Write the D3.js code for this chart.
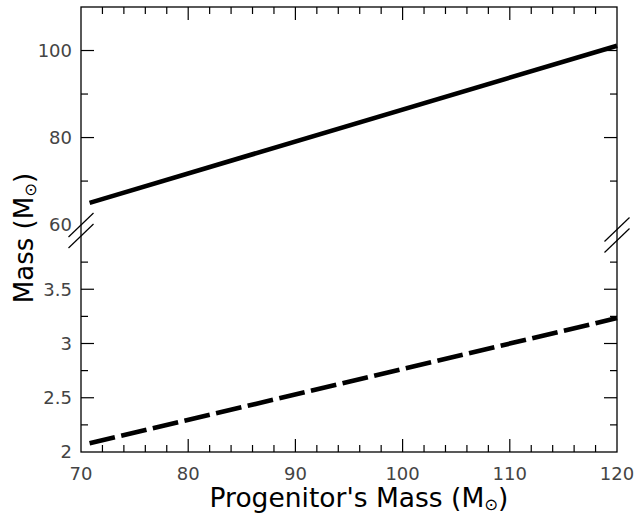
<!DOCTYPE html>
<html><head><meta charset="utf-8">
<script src="https://cdn.jsdelivr.net/npm/d3@7"></script>
<style>
html,body{margin:0;padding:0;background:#fff;}
svg{display:block;}
text{font-family:"DejaVu Sans",sans-serif;}
</style></head>
<body>
<script>
// Data
const progenitorMass = [70.8, 120];
const remnantUpper = [65.0, 101.1];      // solid line (upper panel)
const remnantLower = [2.08, 3.234];      // dashed line (lower panel)
const xTicks = [70, 80, 90, 100, 110, 120];
const yUpperTicks = [60, 80, 100];
const yLowerTicks = [2, 2.5, 3, 3.5];

(function(){
const W = 634, H = 516;
const mLeft = 81, mRight = 617, mTop = 7, mBottom = 452;

const svg = d3.select("body").append("svg").attr("width", W).attr("height", H);

const x = d3.scaleLinear().domain([70, 120]).range([mLeft, mRight]);
const yU = d3.scaleLinear().domain([60, 110]).range([224.6, mTop]);
const yL = d3.scaleLinear().domain([2, 4]).range([mBottom, 235]);

const majorLen = 13, minorLen = 7;
const tickColor = "#000";
const labelColor = "#444";
const tickFont = 18;

const g = svg.append("g");

// Lines
const lineU = d3.line().x((d,i)=>x(progenitorMass[i])).y(d=>yU(d));
const lineL = d3.line().x((d,i)=>x(progenitorMass[i])).y(d=>yL(d));
g.append("path").attr("d", lineU(remnantUpper)).attr("fill","none")
  .attr("stroke","#000").attr("stroke-width",4.6);
g.append("path").attr("d", lineL(remnantLower)).attr("fill","none")
  .attr("stroke","#000").attr("stroke-width",4.6).attr("stroke-dasharray","26,6.5");

// Frame
g.append("rect").attr("x", mLeft).attr("y", mTop).attr("width", mRight-mLeft).attr("height", mBottom-mTop)
  .attr("fill","none").attr("stroke","#000").attr("stroke-width",1.3);

function tick(x1,y1,x2,y2){
  g.append("line").attr("x1",x1).attr("y1",y1).attr("x2",x2).attr("y2",y2)
   .attr("stroke",tickColor).attr("stroke-width",1.2);
}

// X ticks (bottom and top)
d3.range(70, 121, 2).forEach(v=>{
  const major = v % 10 === 0;
  const len = major ? majorLen : minorLen;
  if (v>70 && v<120){
    tick(x(v), mBottom, x(v), mBottom-len);
    tick(x(v), mTop, x(v), mTop+len);
  }
});
xTicks.forEach(v=>{
  g.append("text").attr("x", x(v)).attr("y", 480).attr("text-anchor","middle")
   .attr("font-size",tickFont).attr("fill",labelColor).text(v);
});

// Y upper ticks
[70,80,90,100].forEach(v=>{
  const len = (v % 20 === 0) ? majorLen : minorLen;
  tick(mLeft, yU(v), mLeft+len, yU(v));
  tick(mRight, yU(v), mRight-len, yU(v));
});
yUpperTicks.forEach(v=>{
  g.append("text").attr("x", 72).attr("y", yU(v)).attr("dy","0.36em").attr("text-anchor","end")
   .attr("font-size",tickFont).attr("fill",labelColor).text(v);
});
// Y lower ticks
[2.25,2.5,2.75,3,3.25,3.5,3.75].forEach(v=>{
  const major = Math.abs(v*2 - Math.round(v*2))<1e-6;
  const len = major ? majorLen : minorLen;
  tick(mLeft, yL(v), mLeft+len, yL(v));
  tick(mRight, yL(v), mRight-len, yL(v));
});
yLowerTicks.forEach(v=>{
  g.append("text").attr("x", 72).attr("y", yL(v)).attr("dy","0.36em").attr("text-anchor","end")
   .attr("font-size",tickFont).attr("fill",labelColor).text(v);
});

// Break marks
function breakMarks(cx, cy){
  [-5.5, 5.5].forEach(off=>{
    g.append("line").attr("x1",cx-12.5).attr("y1",cy+off+12).attr("x2",cx+12.5).attr("y2",cy+off-12)
     .attr("stroke","#000").attr("stroke-width",1.2);
  });
}
breakMarks(mLeft, 230.5);
breakMarks(mRight, 235);

// Axis titles
const xt = svg.append("text").attr("x", 359).attr("y", 507).attr("text-anchor","middle")
  .attr("font-size",26.5).attr("fill","#000");
xt.append("tspan").text("Progenitor's Mass (M");
xt.append("tspan").attr("font-size",16.5).attr("dy",3).text("\u2299");
xt.append("tspan").attr("dy",-3).text(")");

const yt = svg.append("text").attr("transform","translate(33,238) rotate(-90)").attr("text-anchor","middle")
  .attr("font-size",26).attr("fill","#000");
yt.append("tspan").text("Mass (M");
yt.append("tspan").attr("font-size",16.5).attr("dy",3).text("\u2299");
yt.append("tspan").attr("dy",-3).text(")");
})();
</script>
</body></html>
